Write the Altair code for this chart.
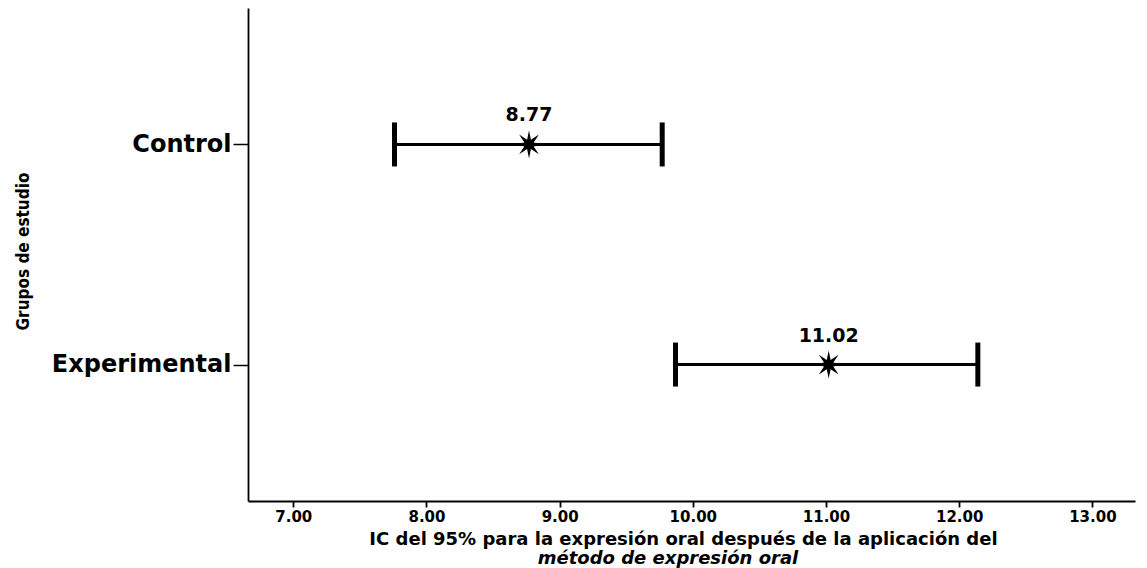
import math
import altair as alt
import pandas as pd

groups = ["Control", "Experimental"]
means = [8.77, 11.02]
lower = [7.76, 9.87]
upper = [9.77, 12.14]
x_ticks = [7, 8, 9, 10, 11, 12, 13]
x_title_1 = "IC del 95% para la expresión oral después de la aplicación del"
x_title_2 = "método de expresión oral"
y_title = "Grupos de estudio"

df = pd.DataFrame({"grupo": groups, "media": means, "lo": lower, "hi": upper})

# 8-point star symbol path in unit square
pts = []
for k in range(16):
    r = 1.0 if k % 2 == 0 else 0.36
    a = -math.pi / 2 + k * math.pi / 8
    pts.append(f"{r*math.cos(a):.3f},{r*math.sin(a):.3f}")
star = "M" + " L".join(pts) + " Z"

FONT = "DejaVu Sans"
xs = alt.Scale(domain=[6.66, 13.32], nice=False, zero=False)
ys = alt.Scale(type="point", domain=groups, padding=0.62)

base = alt.Chart(df)

y_enc = alt.Y(
    "grupo:N", scale=ys,
    axis=alt.Axis(
        title=y_title, titleFont="DejaVu Sans Condensed",
        titleFontSize=17, titleFontWeight="bold", titleColor="black",
        titleAngle=270, titleX=-220, titleY=243, titleAlign="center", titleBaseline="alphabetic",
        labelFont=FONT, labelFontSize=24, labelFontWeight="bold", labelColor="black",
        labelPadding=2, tickSize=15, tickColor="black", tickWidth=1.5,
        domainColor="black", domainWidth=1.8,
    ),
)

x_axis = alt.Axis(
    values=x_ticks, format=".2f", title=x_title_1,
    titleFont=FONT, titleFontSize=18, titleFontWeight="bold", titleColor="black",
    titleX=435, titleY=43, titleAlign="center", titleBaseline="alphabetic",
    labelFont=FONT, labelFontSize=15, labelFontWeight="bold", labelColor="black",
    labelPadding=2, tickSize=6, tickColor="black", tickWidth=1.8,
    domainColor="black", domainWidth=1.8, grid=False,
)

bar = base.mark_rule(color="black", strokeWidth=3).encode(
    x=alt.X("lo:Q", scale=xs, axis=x_axis), x2="hi:Q", y=y_enc
)
cap_lo = base.mark_tick(color="black", thickness=5, size=44, opacity=1).encode(
    x=alt.X("lo:Q", scale=xs), y=alt.Y("grupo:N", scale=ys))
cap_hi = base.mark_tick(color="black", thickness=5, size=44, opacity=1).encode(
    x=alt.X("hi:Q", scale=xs), y=alt.Y("grupo:N", scale=ys))
pt = base.mark_point(shape=star, filled=True, color="black", size=780, opacity=1).encode(
    x=alt.X("media:Q", scale=xs), y=alt.Y("grupo:N", scale=ys)
)
lbl = base.mark_text(font=FONT, fontSize=19, fontWeight="bold", color="black", dy=-29, baseline="middle").encode(
    x=alt.X("media:Q", scale=xs), y=alt.Y("grupo:N", scale=ys), text=alt.Text("media:Q", format=".2f")
)
line2 = alt.Chart(pd.DataFrame({"t": [x_title_2]})).mark_text(
    font=FONT, fontSize=18, fontWeight="bold", fontStyle="italic", color="black",
    baseline="alphabetic", align="center"
).encode(x=alt.value(420), y=alt.value(556), text="t:N")

chart = alt.layer(bar, cap_lo, cap_hi, pt, lbl, line2).properties(
    width=887, height=493,
    autosize=alt.AutoSizeParams(type="none"),
    padding={"left": 240, "top": 0, "right": 4, "bottom": 67},
    background="white",
).configure_view(stroke=None).configure_axis(grid=False)

chart.save("out.html", embed_options={"renderer": "svg", "actions": False})
